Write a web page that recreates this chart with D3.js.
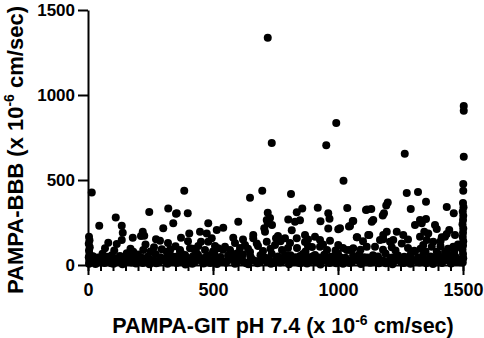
<!DOCTYPE html>
<html>
<head>
<meta charset="utf-8">
<script src="https://cdn.jsdelivr.net/npm/d3@7"></script>
<style>
  body { margin: 0; background: #fff; }
  text { font-family: "Liberation Sans", Arial, sans-serif; font-weight: bold; fill: #000; }
</style>
</head>
<body>
<div id="chart"></div>
<script>
// PAMPA-BBB vs PAMPA-GIT scatter

const width = 484, height = 338;

// axis ticks
const majorTicks = [0, 500, 1000, 1500];
const minorTicks = d3.range(0, 1501, 50); // x-axis minor ticks every 50

// [GIT, BBB] pairs
const highPoints = [
  [719, 1337], [993, 835], [735, 718], [953, 704], [1267, 655], [1503, 935], [1503, 908],
  [1503, 637], [1022, 496], [1501, 476], [1501, 437], [15, 427], [385, 437], [697, 437],
  [648, 396], [812, 418], [1275, 424], [1320, 429]
];

const upperPoints = [
  [1352, 372], [1199, 368], [1193, 350], [1037, 336], [1116, 326], [1133, 329], [1291, 329],
  [1435, 341], [1463, 304], [1184, 304], [1179, 291], [857, 333], [835, 310], [919, 337],
  [961, 304], [966, 272], [930, 257], [801, 268], [828, 255], [848, 263], [1059, 259],
  [1044, 226], [728, 276], [736, 235], [961, 214], [1001, 211], [815, 204], [245, 312],
  [321, 332], [352, 302], [341, 245], [301, 216], [45, 231], [111, 280], [135, 231],
  [139, 190], [219, 196], [212, 171], [225, 172], [179, 161], [355, 304], [399, 304],
  [719, 308], [715, 265], [719, 245], [481, 245], [601, 255], [541, 219], [515, 206],
  [448, 196], [475, 186], [405, 186], [372, 161], [708, 196], [705, 216], [661, 176],
  [661, 157], [581, 160], [495, 157], [1112, 324], [1077, 163], [752, 157], [788, 157],
  [835, 157], [868, 176], [908, 166], [1061, 259], [1048, 229], [1141, 265], [1135, 255],
  [1328, 265], [1352, 271], [1308, 235], [1008, 216], [1388, 235], [1395, 212], [1445, 206],
  [1435, 182], [1195, 196], [1235, 196], [1075, 163], [1125, 176], [1468, 176], [1415, 163],
  [1261, 176], [1345, 196], [1361, 186], [1328, 166], [1121, 176], [1428, 166], [1335, 245],
  [1181, 176], [760, 170]
];

const middlePoints = [
  [135, 147], [115, 124], [81, 131], [68, 98], [272, 151], [288, 143], [264, 104], [368, 88],
  [295, 92], [315, 78], [221, 88], [181, 78], [155, 69], [128, 53], [481, 137], [452, 137],
  [441, 112], [408, 98], [368, 78], [548, 108], [521, 98], [628, 118], [675, 127], [715, 137],
  [575, 69], [968, 143], [928, 108], [1001, 118], [1115, 108], [1048, 88], [1461, 108],
  [1181, 151], [1221, 147], [1255, 127], [1375, 108], [1395, 78], [1308, 78], [1061, 98],
  [1035, 88], [1148, 108], [1355, 147], [1168, 147], [1208, 137], [1215, 104], [1305, 84],
  [1381, 137], [1341, 118], [1465, 78], [1428, 78], [1475, 104], [748, 118], [776, 88],
  [808, 129], [836, 100], [868, 135], [896, 106], [928, 147], [956, 88], [788, 59], [848, 53],
  [908, 59], [968, 47], [468, 88], [508, 112], [568, 88], [608, 100], [648, 76], [680, 112],
  [588, 129], [432, 76], [388, 59]
];

const fillPoints = [
  [105, 85], [170, 95], [250, 80], [330, 92], [350, 110], [420, 95], [500, 80], [540, 90],
  [600, 70], [640, 95], [700, 82], [730, 95], [800, 100], [870, 80], [880, 110], [940, 120],
  [990, 85], [1020, 100], [1090, 90], [1180, 90], [1230, 85], [1280, 100], [1330, 95],
  [1350, 80], [1410, 110], [1440, 95], [1480, 120], [230, 120], [320, 130], [400, 140],
  [620, 150], [770, 140], [880, 150], [1100, 140], [1280, 150], [1410, 140]
];

const edgeColumns = [
  [4, 166], [6, 145], [3, 125], [7, 105], [4, 85], [6, 65], [3, 45], [5, 25], [4, 8],
  [1500, 365], [1502, 340], [1499, 315], [1501, 290], [1500, 265], [1498, 240], [1501, 215],
  [1500, 190], [1499, 165], [1501, 140], [1500, 115], [1498, 90], [1500, 65], [1501, 40], [1499, 15]
];

const midBand = [
  [20, 52], [40, 44], [58, 66], [76, 48], [95, 58], [140, 45], [160, 40], [180, 55], [200, 62],
  [215, 42], [240, 50], [270, 64], [290, 46], [310, 38], [330, 58], [350, 48], [375, 66],
  [395, 44], [420, 52], [440, 60], [460, 40], [480, 56], [505, 68], [530, 47], [560, 54],
  [590, 41], [620, 62], [650, 49], [690, 57], [710, 43], [735, 64], [760, 50], [780, 40],
  [810, 58], [830, 46], [860, 65], [900, 52], [925, 44], [945, 60], [975, 48], [1000, 66],
  [1030, 42], [1060, 55], [1085, 62], [1105, 45], [1140, 58], [1160, 50], [1190, 67],
  [1220, 44], [1240, 56], [1265, 48], [1290, 61], [1320, 42], [1340, 57], [1370, 50],
  [1400, 64], [1420, 45], [1445, 55], [1470, 48]
];

const lowBand = [
  [12, 18], [30, 6], [48, 27], [66, 12], [84, 31], [102, 8], [120, 22], [138, 4], [156, 29],
  [174, 15], [192, 9], [210, 33], [228, 20], [246, 5], [264, 26], [282, 14], [300, 31],
  [318, 7], [336, 21], [354, 12], [372, 30], [390, 3], [408, 24], [426, 16], [444, 35],
  [462, 9], [480, 19], [498, 28], [516, 6], [534, 23], [552, 13], [570, 32], [588, 8],
  [606, 25], [624, 17], [642, 4], [660, 29], [678, 11], [696, 34], [714, 20], [732, 7],
  [750, 27], [768, 14], [786, 33], [804, 5], [822, 22], [840, 15], [858, 30], [876, 9],
  [894, 24], [912, 18], [930, 3], [948, 28], [966, 12], [984, 35], [1002, 21], [1020, 8],
  [1038, 26], [1056, 16], [1074, 31], [1092, 6], [1110, 23], [1128, 13], [1146, 29],
  [1164, 10], [1182, 25], [1200, 18], [1218, 4], [1236, 32], [1254, 15], [1272, 22],
  [1290, 8], [1308, 27], [1326, 14], [1344, 34], [1362, 19], [1380, 6], [1398, 26],
  [1416, 12], [1434, 30], [1452, 9], [1470, 21], [1488, 16]
];

const lowBand2 = [
  [21, 38], [39, 15], [57, 42], [75, 24], [93, 10], [111, 40], [129, 30], [147, 14], [165, 44],
  [183, 36], [201, 20], [219, 12], [237, 40], [255, 30], [273, 10], [291, 38], [309, 22],
  [327, 45], [345, 32], [363, 16], [381, 42], [399, 28], [417, 8], [435, 38], [453, 24],
  [471, 44], [489, 12], [507, 36], [525, 40], [543, 18], [561, 30], [579, 46], [597, 20],
  [615, 38], [633, 10], [651, 42], [669, 24], [687, 16], [705, 40], [723, 30], [741, 12],
  [759, 44], [777, 22], [795, 38], [813, 28], [831, 40], [849, 10], [867, 34], [885, 46],
  [903, 30], [921, 14], [939, 42], [957, 22], [975, 38], [993, 10], [1011, 44], [1029, 30],
  [1047, 12], [1065, 40], [1083, 24], [1101, 36], [1119, 44], [1137, 16], [1155, 40],
  [1173, 28], [1191, 10], [1209, 42], [1227, 24], [1245, 38], [1263, 12], [1281, 44],
  [1299, 30], [1317, 20], [1335, 40], [1353, 10], [1371, 36], [1389, 44], [1407, 20],
  [1425, 40], [1443, 26], [1461, 44], [1479, 34], [1495, 28]
];

const points = [...lowBand, ...lowBand2, ...midBand, ...edgeColumns, ...fillPoints,
  ...middlePoints, ...upperPoints, ...highPoints];

const x = d3.scaleLinear().domain([0, 1500]).range([88, 463]);
const y = d3.scaleLinear().domain([0, 1500]).range([265, 10]);

const svg = d3.select("#chart")
  .append("svg")
  .attr("width", width)
  .attr("height", height)
  .attr("viewBox", [0, 0, width, height]);

// minor x ticks (no labels)
svg.append("g")
  .attr("transform", `translate(0,${y(0)})`)
  .call(d3.axisBottom(x).tickValues(minorTicks).tickSize(6).tickSizeOuter(0).tickFormat(""))
  .call(g => g.select(".domain").remove())
  .call(g => g.selectAll("line").attr("stroke", "#000").attr("stroke-width", 2));

// major x ticks
svg.append("g")
  .attr("transform", `translate(0,${y(0)})`)
  .call(d3.axisBottom(x).tickValues(majorTicks).tickSize(10).tickSizeOuter(0).tickPadding(8)
    .tickFormat(d3.format("d")))
  .call(g => g.select(".domain").attr("stroke", "#000").attr("stroke-width", 2))
  .call(g => g.selectAll("line").attr("stroke", "#000").attr("stroke-width", 2))
  .call(g => g.selectAll("text").attr("font-size", 18).attr("font-family", null));

// y axis
svg.append("g")
  .attr("transform", `translate(${x(0)},0)`)
  .call(d3.axisLeft(y).tickValues(majorTicks).tickSize(10).tickSizeOuter(0).tickPadding(3)
    .tickFormat(d3.format("d")))
  .call(g => g.select(".domain").attr("stroke", "#000").attr("stroke-width", 2))
  .call(g => g.selectAll("line").attr("stroke", "#000").attr("stroke-width", 2))
  .call(g => g.selectAll("text").attr("font-size", 17).attr("font-family", null));

// points
svg.append("g")
  .selectAll("circle")
  .data(points)
  .join("circle")
  .attr("cx", d => x(d[0]))
  .attr("cy", d => y(d[1]))
  .attr("r", 4)
  .attr("fill", "#000");

// axis titles
const xTitle = svg.append("text")
  .attr("x", 283)
  .attr("y", 333)
  .attr("text-anchor", "middle")
  .attr("font-size", 21.5);
xTitle.append("tspan").text("PAMPA-GIT pH 7.4 (x 10");
xTitle.append("tspan").attr("dy", -8).attr("font-size", 14).text("-6");
xTitle.append("tspan").attr("dy", 8).text(" cm/sec)");

const yTitle = svg.append("text")
  .attr("transform", "translate(23,150) rotate(-90)")
  .attr("text-anchor", "middle")
  .attr("font-size", 22);
yTitle.append("tspan").text("PAMPA-BBB (x 10");
yTitle.append("tspan").attr("dy", -9).attr("font-size", 14).text("-6");
yTitle.append("tspan").attr("dy", 9).text(" cm/sec)");
</script>
</body>
</html>
